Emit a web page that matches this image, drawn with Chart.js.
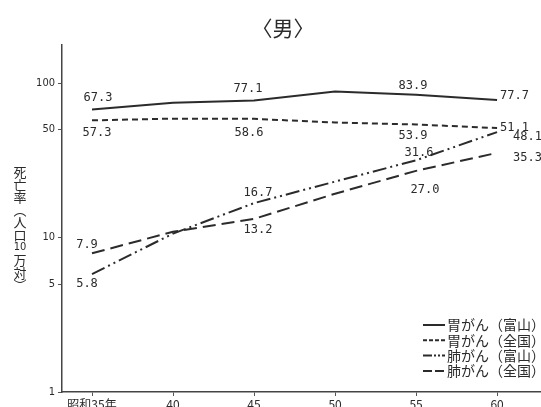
<!DOCTYPE html>
<html><head><meta charset="utf-8">
<script src="https://cdn.jsdelivr.net/npm/chart.js@4"></script>
<style>
html,body{margin:0;padding:0;background:#fff;overflow:hidden;width:541px;height:407px;}
#wrap{position:relative;width:580px;height:420px;}
</style></head><body>
<div id="wrap"><canvas id="c"></canvas></div>
<script>
// ---- data ----
const years = [35, 40, 45, 50, 55, 60];
const yearLabels = ['昭和35年', '40', '45', '50', '55', '60'];
const stomachToyama = [67.3, 74.5, 77.1, 88.0, 83.9, 77.7];
const stomachNation = [57.3, 58.8, 58.6, 55.5, 53.9, 51.1];
const lungToyama = [5.8, 10.6, 16.7, 23.0, 31.6, 48.1];
const lungNation = [7.9, 10.9, 13.2, 19.2, 27.0, 35.3];
const yTicks = [1, 5, 10, 50, 100];
const seriesNames = ['胃がん（富山）', '胃がん（全国）', '肺がん（富山）', '肺がん（全国）'];
const labeledIdx = [0, 2, 4, 5];
const titleText = '〈男〉';
const yTitleChars = ['死', '亡', '率', '︵', '人', '口', '10', '万', '対', '︶'];

// ---- styling (label offsets per dataset, per labeled point) ----
const labelOffsets = [
  [[6, -12, 'center'], [-6, -12, 'center'], [-3, -9, 'center'], [3, -4, 'left']],
  [[5, 13, 'center'], [-5, 14, 'center'], [-3, 11, 'center'], [3, 0, 'left']],
  [[-5, 10, 'center'], [4, -10, 'center'], [3, -7, 'center'], [16, 5, 'left']],
  [[-5, -8, 'center'], [4, 11, 'center'], [9, 19, 'center'], [16, 5, 'left']]
];
const INK = '#2b2b2b';
const dashes = [[], [6, 4], [14, 4, 2, 4, 2, 4], [13, 6]];
const seriesData = [stomachToyama, stomachNation, lungToyama, lungNation];

const datasets = seriesData.map((d, i) => ({
  label: seriesNames[i],
  data: years.map((y, j) => ({ x: y, y: d[j] })),
  borderColor: INK,
  borderWidth: 2,
  borderDash: dashes[i],
  pointRadius: 0,
  tension: 0,
  fill: false
}));

const decorPlugin = {
  id: 'decor',
  afterDraw(chart) {
    const ctx = chart.ctx;
    ctx.save();
    // title
    ctx.fillStyle = INK;
    ctx.textAlign = 'center';
    ctx.textBaseline = 'middle';
    ctx.font = '21px "Noto Sans CJK JP"';
    ctx.fillText(titleText, 283, 28);
    // vertical y title
    yTitleChars.forEach((ch, i) => {
      if (/\d/.test(ch)) ctx.font = '11px "DejaVu Sans Condensed"';
      else ctx.font = '13px "Noto Sans CJK JP"';
      ctx.fillText(ch, 20, 172 + i * 12.6);
    });
    // data labels
    ctx.font = '12px "DejaVu Sans Mono"';
    chart.data.datasets.forEach((ds, i) => {
      const meta = chart.getDatasetMeta(i);
      labeledIdx.forEach((idx, k) => {
        const pt = meta.data[idx];
        const [dx, dy, al] = labelOffsets[i][k];
        ctx.textAlign = al;
        ctx.fillText(seriesData[i][idx].toFixed(1), pt.x + dx, pt.y + dy);
      });
    });
    // legend
    chart.data.datasets.forEach((ds, i) => {
      const y = 325 + i * 15.3;
      ctx.beginPath();
      ctx.setLineDash(i === 1 ? [4, 2] : i === 2 ? [9, 2, 2, 2, 2, 2] : i === 3 ? [9, 3] : []);
      ctx.lineWidth = 2;
      ctx.strokeStyle = INK;
      ctx.moveTo(423, y);
      ctx.lineTo(445, y);
      ctx.stroke();
      ctx.setLineDash([]);
      ctx.font = '14px "Noto Sans CJK JP"';
      ctx.textAlign = 'left';
      ctx.fillText(ds.label, 447, y);
    });
    ctx.restore();
  }
};

new Chart(document.getElementById('c'), {
  type: 'line',
  data: { datasets },
  options: {
    responsive: true,
    maintainAspectRatio: false,
    animation: false,
    devicePixelRatio: 1,
    layout: { padding: { top: 45, right: 5, left: 0, bottom: 0 } },
    plugins: { legend: { display: false }, tooltip: { enabled: false }, title: { display: false } },
    scales: {
      x: {
        type: 'linear', min: 33.148, max: 64.81,
        afterBuildTicks: s => { s.ticks = years.map(v => ({ value: v })); },
        afterFit: s => { s.height = 28; },
        ticks: {
          autoSkip: false, maxRotation: 0, padding: 1, color: INK,
          font: { family: '"Noto Sans CJK JP"', size: 12 },
          callback: v => yearLabels[years.indexOf(v)]
        },
        grid: { drawOnChartArea: false, drawTicks: true, tickLength: 4, color: '#555' },
        border: { display: true, color: '#444', width: 1.5 }
      },
      y: {
        type: 'logarithmic', min: 1, max: 176.2,
        afterBuildTicks: s => { s.ticks = yTicks.map(v => ({ value: v })); },
        afterFit: s => { s.width = 62; },
        ticks: {
          padding: 3, color: INK,
          font: { family: '"DejaVu Sans Condensed"', size: 11 },
          callback: v => String(v)
        },
        grid: { drawOnChartArea: false, drawTicks: true, tickLength: 4, color: '#555' },
        border: { display: true, color: '#444', width: 1.5 }
      }
    }
  },
  plugins: [decorPlugin]
});
</script>
</body></html>
